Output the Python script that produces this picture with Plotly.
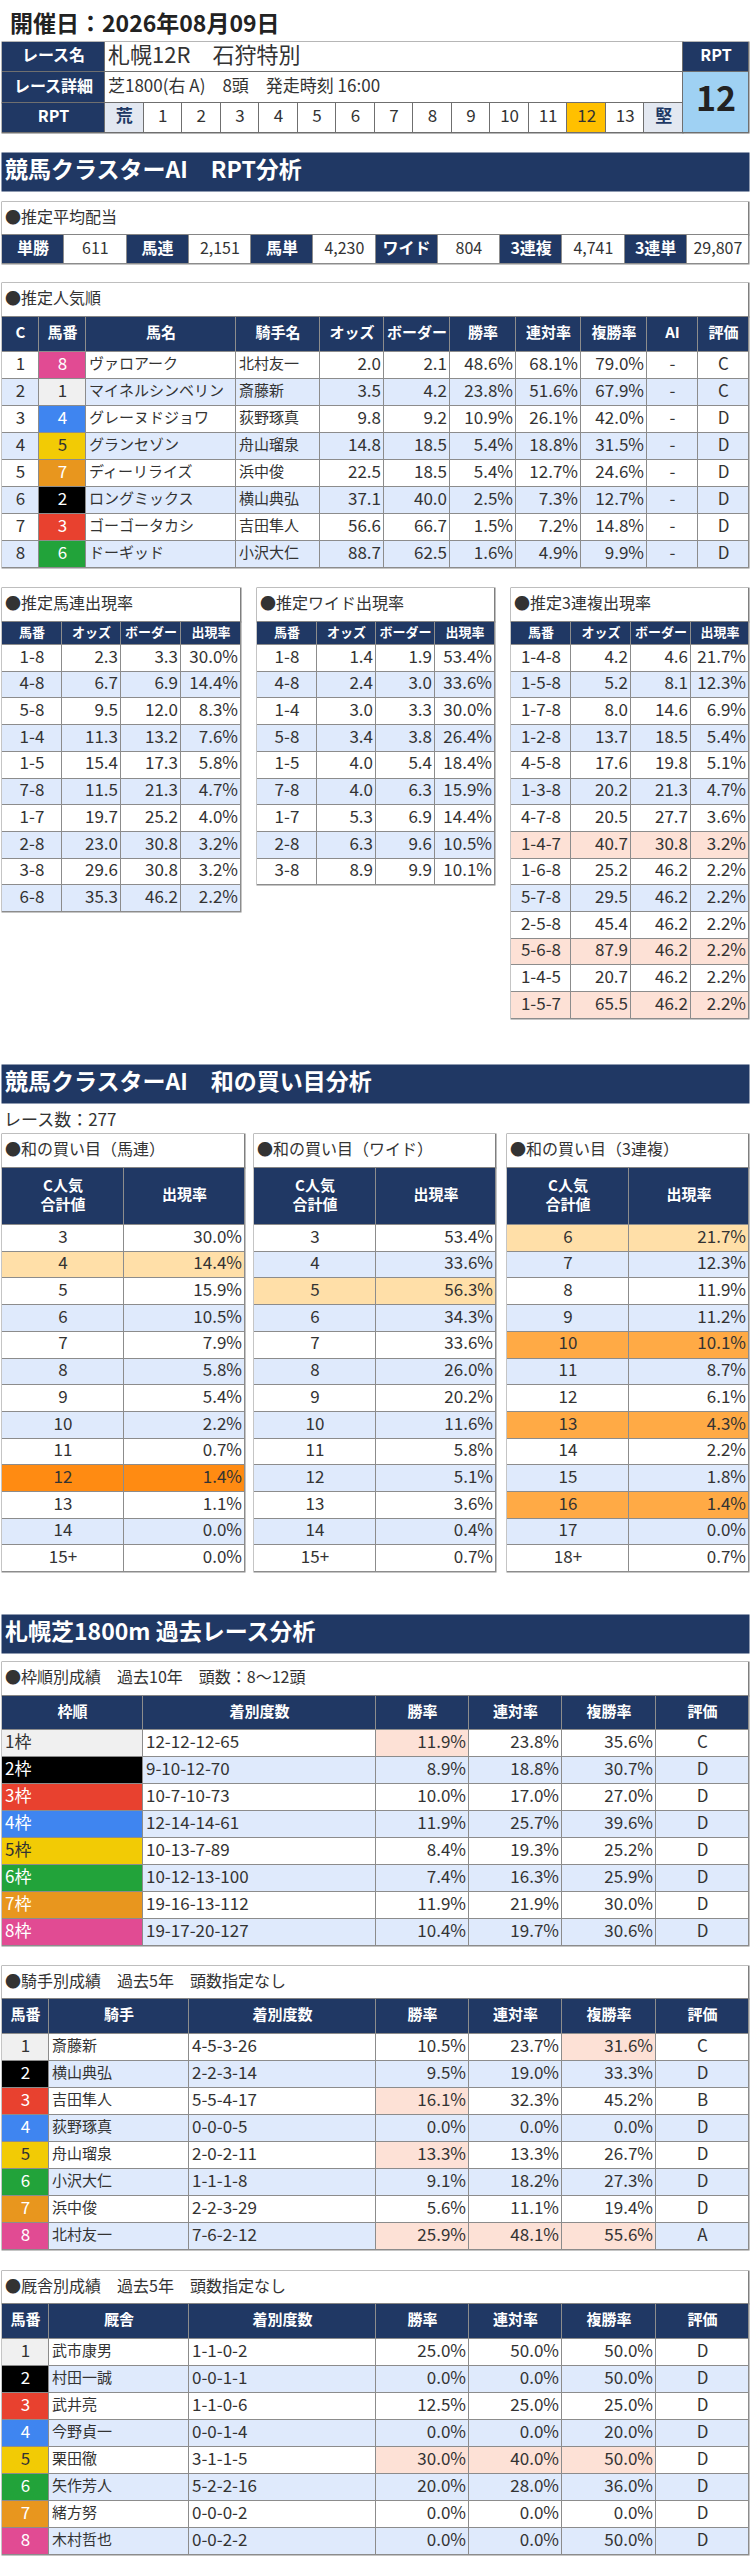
import plotly.graph_objects as go

# ---- data -------------------------------------------------------------
race_date = '開催日：2026年08月09日'
race_name = '札幌12R　石狩特別'
race_detail = '芝1800(右 A)　8頭　発走時刻 16:00'
rpt_scale = ['荒', '1', '2', '3', '4', '5', '6', '7', '8', '9', '10', '11', '12', '13', '堅']
rpt_value = '12'

payout_types = ['単勝', '馬連', '馬単', 'ワイド', '3連複', '3連単']
payout_values = ['611', '2,151', '4,230', '804', '4,741', '29,807']

pop_rank = [1, 2, 3, 4, 5, 6, 7, 8]
pop_umaban = [8, 1, 4, 5, 7, 2, 3, 6]
pop_horse = ['ヴァロアーク', 'マイネルシンベリン', 'グレーヌドジョワ', 'グランセゾン',
             'ディーリライズ', 'ロングミックス', 'ゴーゴータカシ', 'ドーギッド']
pop_jockey = ['北村友一', '斎藤新', '荻野琢真', '舟山瑠泉', '浜中俊', '横山典弘', '吉田隼人', '小沢大仁']
pop_odds = [2.0, 3.5, 9.8, 14.8, 22.5, 37.1, 56.6, 88.7]
pop_border = [2.1, 4.2, 9.2, 18.5, 18.5, 40.0, 66.7, 62.5]
pop_win = [48.6, 23.8, 10.9, 5.4, 5.4, 2.5, 1.5, 1.6]
pop_quin = [68.1, 51.6, 26.1, 18.8, 12.7, 7.3, 7.2, 4.9]
pop_place = [79.0, 67.9, 42.0, 31.5, 24.6, 12.7, 14.8, 9.9]
pop_ai = ['-', '-', '-', '-', '-', '-', '-', '-']
pop_grade = ['C', 'C', 'D', 'D', 'D', 'D', 'D', 'D']

umaren_combo = ['1-8', '4-8', '5-8', '1-4', '1-5', '7-8', '1-7', '2-8', '3-8', '6-8']
umaren_odds = [2.3, 6.7, 9.5, 11.3, 15.4, 11.5, 19.7, 23.0, 29.6, 35.3]
umaren_border = [3.3, 6.9, 12.0, 13.2, 17.3, 21.3, 25.2, 30.8, 30.8, 46.2]
umaren_rate = [30.0, 14.4, 8.3, 7.6, 5.8, 4.7, 4.0, 3.2, 3.2, 2.2]

wide_combo = ['1-8', '4-8', '1-4', '5-8', '1-5', '7-8', '1-7', '2-8', '3-8']
wide_odds = [1.4, 2.4, 3.0, 3.4, 4.0, 4.0, 5.3, 6.3, 8.9]
wide_border = [1.9, 3.0, 3.3, 3.8, 5.4, 6.3, 6.9, 9.6, 9.9]
wide_rate = [53.4, 33.6, 30.0, 26.4, 18.4, 15.9, 14.4, 10.5, 10.1]

trio_combo = ['1-4-8', '1-5-8', '1-7-8', '1-2-8', '4-5-8', '1-3-8', '4-7-8',
              '1-4-7', '1-6-8', '5-7-8', '2-5-8', '5-6-8', '1-4-5', '1-5-7']
trio_odds = [4.2, 5.2, 8.0, 13.7, 17.6, 20.2, 20.5, 40.7, 25.2, 29.5, 45.4, 87.9, 20.7, 65.5]
trio_border = [4.6, 8.1, 14.6, 18.5, 19.8, 21.3, 27.7, 30.8, 46.2, 46.2, 46.2, 46.2, 46.2, 46.2]
trio_rate = [21.7, 12.3, 6.9, 5.4, 5.1, 4.7, 3.6, 3.2, 2.2, 2.2, 2.2, 2.2, 2.2, 2.2]

race_count = 277
sum_umaren_key = ['3', '4', '5', '6', '7', '8', '9', '10', '11', '12', '13', '14', '15+']
sum_umaren_rate = [30.0, 14.4, 15.9, 10.5, 7.9, 5.8, 5.4, 2.2, 0.7, 1.4, 1.1, 0.0, 0.0]
sum_wide_key = ['3', '4', '5', '6', '7', '8', '9', '10', '11', '12', '13', '14', '15+']
sum_wide_rate = [53.4, 33.6, 56.3, 34.3, 33.6, 26.0, 20.2, 11.6, 5.8, 5.1, 3.6, 0.4, 0.7]
sum_trio_key = ['6', '7', '8', '9', '10', '11', '12', '13', '14', '15', '16', '17', '18+']
sum_trio_rate = [21.7, 12.3, 11.9, 11.2, 10.1, 8.7, 6.1, 4.3, 2.2, 1.8, 1.4, 0.0, 0.7]

waku_name = ['1枠', '2枠', '3枠', '4枠', '5枠', '6枠', '7枠', '8枠']
waku_record = ['12-12-12-65', '9-10-12-70', '10-7-10-73', '12-14-14-61',
               '10-13-7-89', '10-12-13-100', '19-16-13-112', '19-17-20-127']
waku_win = [11.9, 8.9, 10.0, 11.9, 8.4, 7.4, 11.9, 10.4]
waku_quin = [23.8, 18.8, 17.0, 25.7, 19.3, 16.3, 21.9, 19.7]
waku_place = [35.6, 30.7, 27.0, 39.6, 25.2, 25.9, 30.0, 30.6]
waku_grade = ['C', 'D', 'D', 'D', 'D', 'D', 'D', 'D']

jk_num = [1, 2, 3, 4, 5, 6, 7, 8]
jk_name = ['斎藤新', '横山典弘', '吉田隼人', '荻野琢真', '舟山瑠泉', '小沢大仁', '浜中俊', '北村友一']
jk_record = ['4-5-3-26', '2-2-3-14', '5-5-4-17', '0-0-0-5', '2-0-2-11', '1-1-1-8', '2-2-3-29', '7-6-2-12']
jk_win = [10.5, 9.5, 16.1, 0.0, 13.3, 9.1, 5.6, 25.9]
jk_quin = [23.7, 19.0, 32.3, 0.0, 13.3, 18.2, 11.1, 48.1]
jk_place = [31.6, 33.3, 45.2, 0.0, 26.7, 27.3, 19.4, 55.6]
jk_grade = ['C', 'D', 'B', 'D', 'D', 'D', 'D', 'A']

tr_num = [1, 2, 3, 4, 5, 6, 7, 8]
tr_name = ['武市康男', '村田一誠', '武井亮', '今野貞一', '栗田徹', '矢作芳人', '緒方努', '木村哲也']
tr_record = ['1-1-0-2', '0-0-1-1', '1-1-0-6', '0-0-1-4', '3-1-1-5', '5-2-2-16', '0-0-0-2', '0-0-2-2']
tr_win = [25.0, 0.0, 12.5, 0.0, 30.0, 20.0, 0.0, 0.0]
tr_quin = [50.0, 0.0, 25.0, 0.0, 40.0, 28.0, 0.0, 0.0]
tr_place = [50.0, 50.0, 25.0, 20.0, 50.0, 36.0, 0.0, 50.0]
tr_grade = ['D', 'D', 'D', 'D', 'D', 'D', 'D', 'D']

# ---- styles -----------------------------------------------------------
W, H = 751, 2560
FONT = 'Noto Sans CJK JP'
NAVY = '#203864'
BAND = '#dfeafc'
WHITE = '#ffffff'
SALMON = '#fde1d6'
PEACH = '#ffdfa8'
ORANGE = '#ff8b12'
ORANGE_MID = '#ffaa45'
GOLD = '#ffc000'
PALE = '#e3e8f1'
SKY = '#9fd1f3'
GRID = '#8c8c8c'
INK = '#333333'
PAD = 3
FRAME_FILL = ['#f0f0f0', '#000000', '#e8412f', '#3f85f0', '#f2cb05', '#22a33a', '#e8961e', '#e14b93']
FRAME_INK = [INK, WHITE, WHITE, WHITE, INK, WHITE, WHITE, WHITE]

# highlighted cells
trio_marks = {7: SALMON, 11: SALMON, 13: SALMON}
sum_umaren_marks = {1: PEACH, 9: ORANGE}
sum_wide_marks = {2: PEACH}
sum_trio_marks = {0: PEACH, 4: ORANGE_MID, 7: ORANGE_MID, 10: ORANGE_MID}
waku_marks = [(0, 2)]
jk_marks = [(0, 5), (2, 3), (4, 3), (7, 3), (7, 4), (7, 5)]
tr_marks = [(4, 3), (4, 4), (4, 5)]

fig = go.Figure()
POS = {'l': 'middle right', 'r': 'middle left', 'c': 'middle center'}


def pct(v):
    return '%.1f%%' % v


def block(x0, y0, widths, heights, texts, fills, inks, sizes, aligns, border=GRID):
    xe = [x0]
    for w in widths:
        xe.append(xe[-1] + w)
    ye = [y0]
    for h in heights:
        ye.append(ye[-1] + h)
    colors = []
    for row in fills:
        for c in row:
            if c not in colors:
                colors.append(c)
    n = len(colors)
    scale = []
    for i, c in enumerate(colors):
        scale += [[i / n, c], [(i + 1) / n, c]]
    z = [[colors.index(c) for c in row] for row in fills]
    fig.add_trace(go.Heatmap(x=[xe[0] - 0.5, xe[-1] + 0.5], y=[ye[0] - 0.5, ye[-1] + 0.5], z=[[0]],
                             colorscale=[[0, border], [1, border]], showscale=False, hoverinfo='skip'))
    fig.add_trace(go.Heatmap(x=xe, y=ye, z=z, colorscale=scale, zmin=-0.5, zmax=n - 0.5,
                             xgap=1, ygap=1, showscale=False, hoverinfo='skip'))
    tx, ty, tt, tp, tc, ts = [], [], [], [], [], []
    for r, row in enumerate(texts):
        for c, t in enumerate(row):
            if t == '':
                continue
            a = aligns[r][c]
            if a == 'l':
                tx.append(xe[c] + PAD)
            elif a == 'r':
                tx.append(xe[c + 1] - PAD)
            else:
                tx.append((xe[c] + xe[c + 1]) / 2)
            ty.append((ye[r] + ye[r + 1]) / 2)
            tt.append(t)
            tp.append(POS[a])
            tc.append(inks[r][c])
            ts.append(sizes[r][c])
    fig.add_trace(go.Scatter(x=tx, y=ty, text=tt, mode='text', textposition=tp,
                             textfont=dict(family=FONT, color=tc, size=ts),
                             hoverinfo='skip', showlegend=False))


def bar(y0, text, h=38):
    block(2, y0, [747], [h], [['<b>%s</b>' % text]], [[NAVY]], [[WHITE]], [[23]], [['l']], border=NAVY)


def title_box(x0, x1, y0, y1, text):
    block(x0, y0, [x1 - x0], [y1 - y0], [[text]], [[WHITE]], [[INK]], [[16]], [['l']], border='#7f7f7f')


def table(x0, y0, widths, head, hh, hsize, rows, rh, aligns, fills, inks, sizes):
    nc = len(head)
    texts = [['<b>%s</b>' % h for h in head]] + rows
    heights = [hh] + [rh] * len(rows)
    block(x0, y0, widths, heights, texts,
          [[NAVY] * nc] + fills, [[WHITE] * nc] + inks,
          [[hsize] * nc] + sizes, [['c'] * nc] + [aligns] * len(rows))


def band_fills(n, nc, marks=None):
    out = []
    for r in range(n):
        base = WHITE if r % 2 == 0 else BAND
        out.append([base] * nc)
    if isinstance(marks, dict):
        for r, c in marks.items():
            out[r] = [c] * nc
    elif marks:
        for r, c in marks:
            out[r][c] = SALMON
    return out


# ---- header area -----------------------------------------------------
fig.add_annotation(x=8, y=22, xref='x', yref='y', text='<b>%s</b>' % race_date, showarrow=False,
                   xanchor='left', yanchor='middle', font=dict(family=FONT, size=23, color='#222222'))

block(2, 42, [103, 578], [30, 31],
      [['<b>レース名</b>', race_name], ['<b>レース詳細</b>', race_detail]],
      [[NAVY, WHITE], [NAVY, WHITE]], [[WHITE, INK], [WHITE, INK]],
      [[16, 22], [16, 17]], [['c', 'l'], ['c', 'l']], border='#6f6f6f')

rpt_text = ['<b>RPT</b>'] + ['<b>%s</b>' % s if not s.isdigit() else s for s in rpt_scale]
rpt_fill = [NAVY] + [PALE if not s.isdigit() else (GOLD if s == rpt_value else WHITE) for s in rpt_scale]
rpt_ink = [WHITE] + [NAVY if not s.isdigit() else INK for s in rpt_scale]
block(2, 103, [103] + [578 / len(rpt_scale)] * len(rpt_scale), [30],
      [rpt_text], [rpt_fill], [rpt_ink], [[16] + [17] * len(rpt_scale)],
      [['c'] * (len(rpt_scale) + 1)], border='#6f6f6f')

block(683, 42, [66], [30, 61], [['<b>RPT</b>'], ['<b>%s</b>' % rpt_value]],
      [[NAVY], [SKY]], [[WHITE], ['#222222']], [[16], [34]], [['c'], ['c']], border='#6f6f6f')

# ---- RPT analysis ----------------------------------------------------
bar(153, '競馬クラスターAI　RPT分析')

title_box(2, 749, 202, 235, '●推定平均配当')
pay_text, pay_fill, pay_ink = [], [], []
for k, v in zip(payout_types, payout_values):
    pay_text += ['<b>%s</b>' % k, v]
    pay_fill += [NAVY, WHITE]
    pay_ink += [WHITE, INK]
block(2, 235, [747 / 12] * 12, [29], [pay_text], [pay_fill], [pay_ink], [[16] * 12], [['c'] * 12])

title_box(2, 749, 283, 317, '●推定人気順')
pop_rows, pop_ink, pop_size = [], [], []
pop_fill = band_fills(len(pop_rank), 11)
for i in range(len(pop_rank)):
    u = pop_umaban[i]
    pop_rows.append([str(pop_rank[i]), str(u), pop_horse[i], pop_jockey[i],
                     '%.1f' % pop_odds[i], '%.1f' % pop_border[i],
                     pct(pop_win[i]), pct(pop_quin[i]), pct(pop_place[i]), pop_ai[i], pop_grade[i]])
    pop_fill[i][1] = FRAME_FILL[u - 1]
    ink = [INK] * 11
    ink[1] = FRAME_INK[u - 1]
    pop_ink.append(ink)
    pop_size.append([17, 17, 15, 15, 17, 17, 17, 17, 17, 17, 17])
table(2, 317, [37, 47, 150, 84, 64, 66, 66, 65, 66, 51, 51],
      ['C', '馬番', '馬名', '騎手名', 'オッズ', 'ボーダー', '勝率', '連対率', '複勝率', 'AI', '評価'],
      35, 15, pop_rows, 27, ['c', 'c', 'l', 'l', 'r', 'r', 'r', 'r', 'r', 'c', 'c'],
      pop_fill, pop_ink, pop_size)


def odds_table(x0, x1, widths, title, combo, odds, border, rate, marks=None):
    title_box(x0, x1, 588, 622, title)
    rows = [[c, '%.1f' % o, '%.1f' % b, pct(r)] for c, o, b, r in zip(combo, odds, border, rate)]
    n = len(rows)
    table(x0, 622, widths, ['馬番', 'オッズ', 'ボーダー', '出現率'], 23, 13, rows, 26.7,
          ['c', 'r', 'r', 'r'], band_fills(n, 4, marks), [[INK] * 4] * n, [[17] * 4] * n)


odds_table(2, 241, [60, 59, 60, 60], '●推定馬連出現率', umaren_combo, umaren_odds, umaren_border, umaren_rate)
odds_table(257, 495, [60, 59, 59, 60], '●推定ワイド出現率', wide_combo, wide_odds, wide_border, wide_rate)
odds_table(511, 749, [60, 60, 60, 58], '●推定3連複出現率', trio_combo, trio_odds, trio_border, trio_rate,
           trio_marks)

# ---- sum analysis ----------------------------------------------------
bar(1065, '競馬クラスターAI　和の買い目分析')
fig.add_annotation(x=2, y=1118, xref='x', yref='y', text='レース数：%d' % race_count, showarrow=False,
                   xanchor='left', yanchor='middle', font=dict(family=FONT, size=17, color=INK))


def sum_table(x0, x1, widths, title, keys, rate, marks):
    title_box(x0, x1, 1134, 1168, title)
    rows = [[k, pct(r)] for k, r in zip(keys, rate)]
    n = len(rows)
    table(x0, 1168, widths, ['C人気<br>合計値', '出現率'], 57, 15, rows, 26.7,
          ['c', 'r'], band_fills(n, 2, marks), [[INK] * 2] * n, [[17] * 2] * n)


sum_table(2, 245, [122, 121], '●和の買い目（馬連）', sum_umaren_key, sum_umaren_rate, sum_umaren_marks)
sum_table(254, 496, [122, 120], '●和の買い目（ワイド）', sum_wide_key, sum_wide_rate, sum_wide_marks)
sum_table(507, 749, [122, 120], '●和の買い目（3連複）', sum_trio_key, sum_trio_rate, sum_trio_marks)

# ---- past races ------------------------------------------------------
bar(1615, '札幌芝1800m 過去レース分析')

title_box(2, 749, 1662, 1696, '●枠順別成績　過去10年　頭数：8～12頭')
waku_rows = [[waku_name[i], waku_record[i], pct(waku_win[i]), pct(waku_quin[i]),
              pct(waku_place[i]), waku_grade[i]] for i in range(8)]
waku_fill = band_fills(8, 6, waku_marks)
waku_ink = []
for i in range(8):
    waku_fill[i][0] = FRAME_FILL[i]
    waku_ink.append([FRAME_INK[i]] + [INK] * 5)
table(2, 1696, [141, 233, 93, 93, 94, 93], ['枠順', '着別度数', '勝率', '連対率', '複勝率', '評価'],
      34, 15, waku_rows, 27, ['l', 'l', 'r', 'r', 'r', 'c'], waku_fill, waku_ink, [[17] * 6] * 8)


def person_table(y0, title, label, num, name, record, win, quin, place, grade, marks):
    title_box(2, 749, y0, y0 + 33, title)
    rows = [[str(num[i]), name[i], record[i], pct(win[i]), pct(quin[i]), pct(place[i]), grade[i]]
            for i in range(len(num))]
    fills = band_fills(len(rows), 7, marks)
    inks = []
    for i in range(len(rows)):
        fills[i][0] = FRAME_FILL[num[i] - 1]
        inks.append([FRAME_INK[num[i] - 1]] + [INK] * 6)
    table(2, y0 + 33, [47, 140, 187, 93, 93, 94, 93],
          ['馬番', label, '着別度数', '勝率', '連対率', '複勝率', '評価'], 35, 15, rows, 27,
          ['c', 'l', 'l', 'r', 'r', 'r', 'c'], fills, inks, [[17, 15, 17, 17, 17, 17, 17]] * len(rows))


person_table(1966, '●騎手別成績　過去5年　頭数指定なし', '騎手', jk_num, jk_name, jk_record,
             jk_win, jk_quin, jk_place, jk_grade, jk_marks)
person_table(2271, '●厩舎別成績　過去5年　頭数指定なし', '厩舎', tr_num, tr_name, tr_record,
             tr_win, tr_quin, tr_place, tr_grade, tr_marks)

fig.update_layout(
    width=W, height=H, autosize=False, showlegend=False,
    margin=dict(l=0, r=0, t=0, b=0),
    paper_bgcolor='white', plot_bgcolor='white',
    xaxis=dict(range=[0, W], visible=False, fixedrange=True),
    yaxis=dict(range=[H, 0], visible=False, fixedrange=True),
)
fig.write_html('out.html', config={'displayModeBar': False},
               post_script="document.body.style.margin='0';document.body.style.overflow='hidden';")
